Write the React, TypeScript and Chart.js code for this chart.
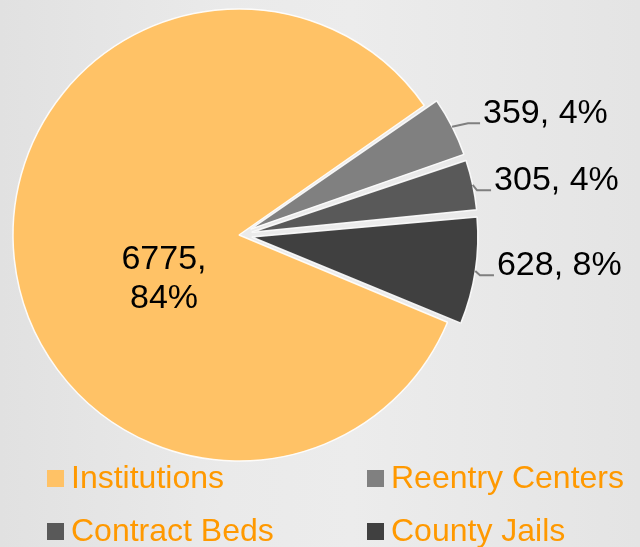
import React, { useEffect, useRef } from "react";
import { Chart, registerables } from "chart.js";

Chart.register(...registerables);

const categories = ["Institutions", "Reentry Centers", "Contract Beds", "County Jails"];
const values = [6775, 359, 305, 628];
const sliceColors = ["#FFC266", "#808080", "#595959", "#404040"];
// Chart.js draws an arc's offset at one quarter of the option value
const explodeOffsets = [0, 52, 52, 52];

const PIE_RADIUS = 226;
const LABEL_FONT = "34px 'Liberation Sans', Arial, sans-serif";
const LEGEND_FONT = "32px 'Liberation Sans', Arial, sans-serif";
const LEGEND_COLOR = "#FF9900";

// label placement (relative to slice outer point), styling only
const labelLayout = [
  { inside: true, dx: -75, dy: 44 },
  { elbow: [16, -3.5], textDx: 31, textDy: -13.5 },
  { elbow: [4.4, 5.5], textDx: 21.4, textDy: -4.5 },
  { elbow: [4.7, 4.1], textDx: 21.7, textDy: -5.9 },
];

// keep exploded slices at the same radius as the rest of the pie
// (Chart.js otherwise grows an offset arc's radius as well as moving it)
const keepRadiusPlugin = {
  id: "keepRadius",
  beforeDatasetsDraw(chart: any) {
    const meta = chart.getDatasetMeta(0);
    meta.data.forEach((arc: any, i: number) => {
      const t = (explodeOffsets[i] || 0) / 4;
      const circ = arc.endAngle - arc.startAngle;
      const fix = 1 - Math.sin(Math.min(Math.PI, circ || 0));
      arc.outerRadius = PIE_RADIUS - t * fix;
    });
  },
};

const sliceLabelPlugin = {
  id: "sliceLabels",
  afterDatasetsDraw(chart: any) {
    const ctx = chart.ctx as CanvasRenderingContext2D;
    const meta = chart.getDatasetMeta(0);
    const data = chart.data.datasets[0].data as number[];
    const total = data.reduce((a, b) => a + b, 0);
    ctx.save();
    ctx.font = LABEL_FONT;
    ctx.fillStyle = "#000000";
    meta.data.forEach((arc: any, i: number) => {
      const p = arc.getProps(["x", "y", "startAngle", "endAngle"], true);
      const mid = (p.startAngle + p.endAngle) / 2;
      const off = (explodeOffsets[i] || 0) / 4;
      const pct = Math.round((data[i] / total) * 100);
      const L: any = labelLayout[i];
      if (L.inside) {
        const cx = p.x + L.dx;
        const cy = p.y + L.dy;
        ctx.textAlign = "center";
        ctx.textBaseline = "middle";
        ctx.fillText(`${data[i]},`, cx, cy - 19.5);
        ctx.fillText(`${pct}%`, cx, cy + 19.5);
        return;
      }
      const r = PIE_RADIUS + off;
      const x0 = p.x + Math.cos(mid) * r;
      const y0 = p.y + Math.sin(mid) * r;
      const x1 = x0 + L.elbow[0];
      const y1 = y0 + L.elbow[1];
      const tx = x0 + L.textDx;
      const ty = y0 + L.textDy;
      ctx.strokeStyle = "#7F7F7F";
      ctx.lineWidth = 2;
      ctx.beginPath();
      ctx.moveTo(x0, y0);
      ctx.lineTo(x1, y1);
      ctx.lineTo(tx - 3, y1);
      ctx.stroke();
      ctx.textAlign = "left";
      ctx.textBaseline = "middle";
      ctx.fillText(`${data[i]}, ${pct}%`, tx, ty);
    });
    ctx.restore();
  },
};

const legendCols = [47, 367];
const legendRows = [478, 531];

const customLegendPlugin = {
  id: "customLegend",
  afterDraw(chart: any) {
    const ctx = chart.ctx as CanvasRenderingContext2D;
    const labels = chart.data.labels as string[];
    const colors = chart.data.datasets[0].backgroundColor as string[];
    ctx.save();
    labels.forEach((lab, i) => {
      const bx = legendCols[i % 2];
      const by = legendRows[Math.floor(i / 2)];
      ctx.fillStyle = colors[i];
      ctx.fillRect(bx, by - 8, 17, 17);
      ctx.font = LEGEND_FONT;
      ctx.fillStyle = LEGEND_COLOR;
      ctx.textAlign = "left";
      ctx.textBaseline = "middle";
      ctx.fillText(lab, bx + 24, by + 1);
    });
    ctx.restore();
  },
};

export default function App() {
  const canvasRef = useRef<HTMLCanvasElement | null>(null);

  useEffect(() => {
    document.body.style.margin = "0";
    const canvas = canvasRef.current;
    if (!canvas) return;
    const chart = new Chart(canvas, {
      type: "pie",
      data: {
        labels: categories,
        datasets: [
          {
            data: values,
            backgroundColor: sliceColors,
            borderColor: "rgba(255,255,255,0.9)",
            borderWidth: 1.5,
            offset: explodeOffsets,
          },
        ],
      },
      options: {
        responsive: false,
        animation: false,
        rotation: 112.7,
        radius: PIE_RADIUS,
        layout: { padding: { left: 0, top: 0, right: 162, bottom: 77 } },
        plugins: {
          legend: { display: false },
          tooltip: { enabled: false },
          title: { display: false },
        },
      } as any,
      plugins: [keepRadiusPlugin, sliceLabelPlugin, customLegendPlugin],
    });
    return () => chart.destroy();
  }, []);

  return (
    <div
      style={{
        position: "absolute",
        left: 0,
        top: 0,
        width: 640,
        height: 547,
        overflow: "hidden",
        background: "linear-gradient(to right, #e1e1e1 0%, #eaeaea 35%, #ececec 55%, #e4e4e4 100%)",
      }}
    >
      <canvas ref={canvasRef} width={640} height={547} style={{ display: "block" }} />
    </div>
  );
}
